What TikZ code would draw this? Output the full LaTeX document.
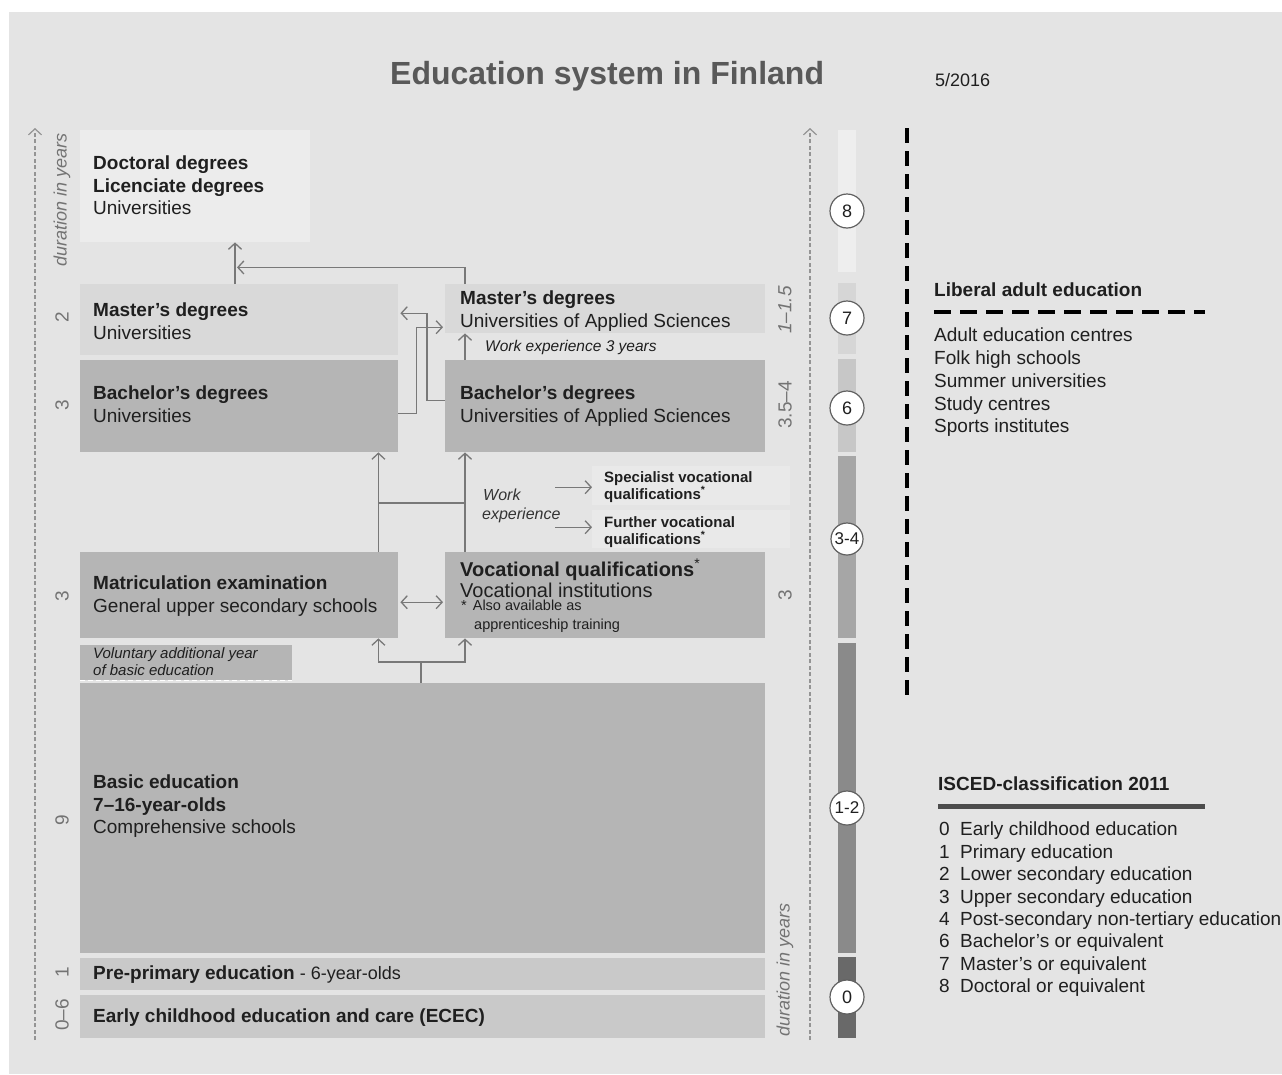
\documentclass[tikz,border=0pt]{standalone}
\usepackage{fontspec}
\setmainfont{Liberation Sans}
\usetikzlibrary{arrows.meta,calc}
\definecolor{bgc}{gray}{0.895}
\definecolor{cdoc}{gray}{0.925}
\definecolor{cmas}{gray}{0.85}
\definecolor{cbac}{gray}{0.71}
\definecolor{cpre}{gray}{0.79}
\definecolor{cspec}{gray}{0.915}
\definecolor{ink}{gray}{0.12}
\definecolor{inkb}{gray}{0.2}
\definecolor{ttl}{gray}{0.35}
\definecolor{num}{gray}{0.45}
\definecolor{connc}{gray}{0.47}
\definecolor{axisc}{gray}{0.58}
\definecolor{ieight}{gray}{0.935}
\definecolor{iseven}{gray}{0.84}
\definecolor{isix}{gray}{0.78}
\definecolor{ithree}{gray}{0.65}
\definecolor{ione}{gray}{0.54}
\definecolor{izero}{gray}{0.41}
\newcommand\myfs[2]{\fontsize{#1}{#2}\selectfont}
\newcommand\inum[1]{\makebox[21pt][l]{#1}}
\begin{document}
\begin{tikzpicture}[x=1pt,y=-1pt,
  box/.style={draw=none,inner sep=0,anchor=north west,minimum width=#1},
  txt/.style={inner sep=0,anchor=north west,align=left,text=ink,font=\myfs{19}{22.5}},
  rnum/.style={inner sep=0,rotate=90,text=num,font=\myfs{19}{22}},
  conn/.style={draw=connc,line width=1.4pt},
  arr/.style={conn,-{Straight Barb[length=6pt,width=13pt,line width=1.3pt]}},
  arrtwo/.style={conn,{Straight Barb[length=6pt,width=13pt,line width=1.3pt]}-{Straight Barb[length=6pt,width=13pt,line width=1.3pt]}},
  axis/.style={draw=axisc,line width=1.3pt,dash pattern=on 4pt off 2.5pt,-{Straight Barb[length=6pt,width=13pt,line width=1.2pt]}},
  bar/.style={draw=none,inner sep=0,anchor=north west,minimum width=18pt},
  circ/.style={circle,draw=gray!75!black,line width=1.2pt,fill=white,minimum size=34pt,inner sep=0,text=ink,font=\myfs{18}{20}}
]
\useasboundingbox (0,0) rectangle (1282,1074);
\fill[white] (0,0) rectangle (1282,1074);
\fill[bgc] (9,12) rectangle (1282,1074);

% title
\node[inner sep=0,anchor=north west,text=ttl,font=\myfs{32}{36}\bfseries] (title) at (390,61) {Education system in Finland};
\node[inner sep=0,anchor=north west,text=ink,font=\myfs{18}{20}] (date) at (935,73) {5/2016};

% axes
\coordinate (la0) at (35,1040);
\coordinate (la1) at (35,128);
\draw[axis] (la0) -- (la1);
\coordinate (ra0) at (810,1040);
\coordinate (ra1) at (810,128);
\draw[axis] (ra0) -- (ra1);
\node[rnum,font=\myfs{18}{20}\itshape] (dl) at (62,200) {duration in years};
\node[rnum,font=\myfs{18}{20}\itshape] (dr) at (785,970) {duration in years};

% duration numbers left
\node[rnum] (n1) at (62,317) {2};
\node[rnum] (n2) at (62,405) {3};
\node[rnum] (n3) at (62,596) {3};
\node[rnum] (n4) at (62,820) {9};
\node[rnum] (n5) at (62,972) {1};
\node[rnum] (n6) at (62,1015) {0–6};
% right
\node[rnum,font=\myfs{19}{22}\itshape] (n7) at (785,310) {1–1.5};
\node[rnum] (n8) at (785,405) {3.5–4};
\node[rnum] (n9) at (785,595) {3};

% boxes
\node[box=230pt,fill=cdoc,minimum height=112pt] (doc) at (80,130) {};
\node[txt] (doct) at (93,156) {\textbf{Doctoral degrees}\\\textbf{Licenciate degrees}\\Universities};

\node[box=318pt,fill=cmas,minimum height=71pt] (mu) at (80,284) {};
\node[txt] (mut) at (93,303) {\textbf{Master’s degrees}\\Universities};

\node[box=318pt,fill=cbac,minimum height=92pt] (bu) at (80,360) {};
\node[txt] (but) at (93,386) {\textbf{Bachelor’s degrees}\\Universities};

\node[box=320pt,fill=cmas,minimum height=49pt] (mua) at (445,284) {};
\node[txt] (muat) at (460,291) {\textbf{Master’s degrees}\\Universities of Applied Sciences};

\node[txt,font=\myfs{15.5}{18}\itshape] (we3) at (485,340) {Work experience 3 years};

\node[box=320pt,fill=cbac,minimum height=92pt] (bua) at (445,360) {};
\node[txt] (buat) at (460,386) {\textbf{Bachelor’s degrees}\\Universities of Applied Sciences};

\node[box=198pt,fill=cspec,minimum height=39pt] (spec) at (592,466) {};
\node[txt,font=\myfs{15}{17}\bfseries] (spect) at (604,471) {Specialist vocational\\qualifications\textsuperscript{*}};
\node[box=198pt,fill=cspec,minimum height=38pt] (furt) at (592,510) {};
\node[txt,font=\myfs{15}{17}\bfseries] (furtt) at (604,516) {Further vocational\\qualifications\textsuperscript{*}};
\node[txt,font=\myfs{16}{20}\itshape,text=inkb] (we) at (483,489) {Work\\[-1pt]\hspace*{-1pt}experience};

\node[box=318pt,fill=cbac,minimum height=86pt] (mat) at (80,552) {};
\node[txt] (matt) at (93,576) {\textbf{Matriculation examination}\\General upper secondary schools};

\node[box=320pt,fill=cbac,minimum height=86pt] (voc) at (445,552) {};
\node[txt,font=\myfs{20}{21}] (voct) at (460,559) {\textbf{Vocational qualifications}\textsuperscript{*}\\Vocational institutions};
\node[txt,font=\myfs{14.5}{19}] (vocn) at (461,600) {*\hspace{6pt}Also available as\\\hspace*{13pt}apprenticeship training};

\node[box=212pt,fill=cbac,minimum height=35pt] (vol) at (80,645) {};
\draw[white,line width=1.6pt,dash pattern=on 5pt off 3pt] (vol.south west) -- (vol.south east);
\node[txt,font=\myfs{15}{17}\itshape] (volt) at (93,647) {Voluntary additional year\\of basic education};

\node[box=685pt,fill=cbac,minimum height=270pt] (basic) at (80,683) {};
\node[txt] (basict) at (93,775) {\textbf{Basic education}\\\textbf{7–16-year-olds}\\Comprehensive schools};

\node[box=685pt,fill=cpre,minimum height=32pt] (pre) at (80,958) {};
\node[txt] (pret) at (93,966) {\textbf{Pre-primary education}\myfs{18}{20} - 6-year-olds};

\node[box=685pt,fill=cpre,minimum height=43pt] (ecec) at (80,995) {};
\node[txt] (ecect) at (93,1009) {\textbf{Early childhood education and care (ECEC)}};

% connectors
\coordinate (fork) at (421,662);
\draw[conn] ([xshift=341pt]basic.north west) -- (fork);
\draw[arr] (fork) -| ([xshift=-20pt]mat.south east);
\draw[arr] (fork) -| ([xshift=20pt]voc.south west);
\draw[arrtwo] ([xshift=2pt,yshift=-7pt]mat.east) -- ([xshift=-2pt,yshift=-7pt]voc.west);
\draw[arr] ([xshift=-20pt]mat.north east) -- ([xshift=-20pt]bu.south east);
\draw[arr] ([xshift=20pt]voc.north west) -- ([xshift=20pt]bua.south west);
\coordinate (cl) at (378,503);
\coordinate (cr) at (465,503);
\draw[conn] (cl) -- (cr);
\draw[arr] ([xshift=-37pt,yshift=-1.5pt]spec.west) -- ([yshift=-1.5pt]spec.west);
\draw[arr] ([xshift=-37pt,yshift=2pt]furt.west) -- ([yshift=2pt]furt.west);
\draw[arr] ([xshift=20pt]bua.north west) -- ([xshift=20pt]mua.south west);
\draw[arr] ([yshift=-7pt]bu.east) -- ++(18,0) |- ([xshift=-2pt,yshift=-18.5pt]mua.west);
\draw[arr] ([yshift=6pt]bua.west) -- ++(-18,0) |- ([xshift=2pt,yshift=6.5pt]mu.east);
\draw[arr] ([xshift=155pt]mu.north west) -- ([xshift=155pt]doc.south west);
\draw[arr] ([xshift=20pt]mua.north west) |- ([xshift=157pt,yshift=-25pt]doc.south west);

% ISCED bar
\node[bar,fill=ieight,minimum height=142pt] (b8) at (838,130) {};
\node[bar,fill=iseven,minimum height=71pt] (b7) at (838,283) {};
\node[bar,fill=isix,minimum height=93pt] (b6) at (838,359) {};
\node[bar,fill=ithree,minimum height=182pt] (b3) at (838,456) {};
\node[bar,fill=ione,minimum height=310pt] (b1) at (838,643) {};
\node[bar,fill=izero,minimum height=81pt] (b0) at (838,957) {};
\node[circ] (c8) at (847,211) {8};
\node[circ] (c7) at (847,318) {7};
\node[circ] (c6) at (847,408) {6};
\node[circ,minimum size=32pt,font=\myfs{17}{19}] (c3) at (847,539) {3-4};
\node[circ,minimum size=34pt,font=\myfs{17}{19}] (c1) at (847,808) {1-2};
\node[circ] (c0) at (847,997) {0};

% liberal adult education
\coordinate (lv0) at (907,128);
\coordinate (lv1) at (907,697);
\draw[black,line width=4pt,dash pattern=on 15pt off 8pt] (lv0) -- (lv1);
\node[txt,font=\myfs{19}{22}\bfseries] (lib) at (934,283) {Liberal adult education};
\coordinate (lh0) at (934,312);
\coordinate (lh1) at (1205,312);
\draw[black,line width=4pt,dash pattern=on 17pt off 9pt] (lh0) -- (lh1);
\node[txt,font=\myfs{19}{22.75}] (libl) at (934,328) {Adult education centres\\Folk high schools\\Summer universities\\Study centres\\Sports institutes};

% ISCED legend
\node[txt,font=\myfs{19}{22}\bfseries] (isc) at (938,777) {ISCED-classification 2011};
\coordinate (ih0) at (938,806);
\coordinate (ih1) at (1205,806);
\draw[gray!60!black,line width=5pt] (ih0) -- (ih1);
\node[txt,font=\myfs{19}{22.4}] (iscl) at (939,822) {\inum{0}Early childhood education\\\inum{1}Primary education\\\inum{2}Lower secondary education\\\inum{3}Upper secondary education\\\inum{4}Post-secondary non-tertiary education\\\inum{6}Bachelor’s or equivalent\\\inum{7}Master’s or equivalent\\\inum{8}Doctoral or equivalent};
\end{tikzpicture}
\end{document}
